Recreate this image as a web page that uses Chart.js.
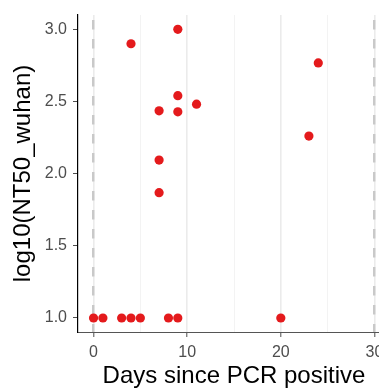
<!DOCTYPE html>
<html>
<head>
<meta charset="utf-8">
<script src="https://cdn.jsdelivr.net/npm/chart.js@4/dist/chart.umd.min.js"></script>
<style>
  html, body { margin: 0; padding: 0; background: #fff; overflow: hidden; width: 379px; height: 389px; }
  #wrap { width: 395px; height: 389px; }
</style>
</head>
<body>
<div id="wrap"><canvas id="c" width="395" height="389"></canvas></div>
<script>
// Data
const days   = [0, 1, 3, 4, 5, 8, 9, 20, 4, 9, 9, 7, 9, 7, 7, 11, 24, 23];
const nt50   = [1.0, 1.0, 1.0, 1.0, 1.0, 1.0, 1.0, 1.0, 2.9, 3.0, 2.54, 2.435, 2.428, 2.094, 1.868, 2.481, 2.767, 2.26];
const xTicks = [0, 5, 10, 15, 20, 25, 30];
const xMajor = [0, 10, 20, 30];
const xDashed = [0, 30];
const yTicks = [1.0, 1.5, 2.0, 2.5, 3.0];

const points = days.map((d, i) => ({ x: d, y: nt50[i] }));
const FONT = "'Liberation Sans', Arial, Helvetica, sans-serif";

function zeroPad(s) { s.paddingTop = 0; s.paddingBottom = 0; s.paddingLeft = 0; s.paddingRight = 0; }

new Chart(document.getElementById('c'), {
  type: 'scatter',
  data: {
    datasets: [{
      data: points,
      backgroundColor: '#E41A1C',
      borderWidth: 0,
      pointRadius: 4.6,
      pointHoverRadius: 4.6
    }]
  },
  options: {
    responsive: false,
    animation: false,
    devicePixelRatio: 1,
    layout: { padding: { top: 15, right: 5, left: 0, bottom: 0 } },
    plugins: { legend: { display: false }, tooltip: { enabled: false } },
    scales: {
      x: {
        type: 'linear',
        position: 'bottom',
        min: -1.66,
        max: 31.66,
        afterBuildTicks: s => { s.ticks = xTicks.map(v => ({ value: v })); },
        afterFit: s => { s.height = 57; zeroPad(s); },
        ticks: {
          font: { family: FONT, size: 16 },
          color: '#4d4d4d',
          padding: 6,
          maxRotation: 0,
          autoSkip: false,
          callback: v => xMajor.includes(v) ? String(v) : ''
        },
        grid: {
          drawOnChartArea: true,
          drawTicks: true,
          tickLength: 5,
          color: ctx => xMajor.includes(ctx.tick && ctx.tick.value) ? '#ebebeb' : '#f3f3f3',
          lineWidth: ctx => xMajor.includes(ctx.tick && ctx.tick.value) ? 1.6 : 1,
          tickColor: ctx => xMajor.includes(ctx.tick && ctx.tick.value) ? '#4d4d4d' : 'rgba(0,0,0,0)',
          tickWidth: 1
        },
        border: { display: true, color: '#555555', width: 1 },
        title: {
          display: true,
          text: 'Days since PCR positive',
          color: '#000',
          font: { family: FONT, size: 24, lineHeight: 1 },
          padding: { top: 0, bottom: 1 }
        }
      },
      x2: {
        type: 'linear',
        position: 'bottom',
        min: -1.66,
        max: 31.66,
        afterBuildTicks: s => { s.ticks = xDashed.map(v => ({ value: v })); },
        afterFit: s => { s.height = 0; zeroPad(s); },
        ticks: { display: false },
        grid: {
          drawOnChartArea: true,
          drawTicks: false,
          color: '#c9c9c9',
          lineWidth: 2.4
        },
        border: { display: false, dash: [9.5, 9.5], dashOffset: 14 }
      },
      y: {
        type: 'linear',
        position: 'left',
        min: 0.903,
        max: 3.099,
        afterBuildTicks: s => { s.ticks = yTicks.map(v => ({ value: v })); },
        afterFit: s => { s.width = 78; zeroPad(s); },
        ticks: {
          font: { family: FONT, size: 16 },
          color: '#4d4d4d',
          padding: 6,
          autoSkip: false,
          callback: v => Number(v).toFixed(1)
        },
        grid: {
          drawOnChartArea: false,
          drawTicks: true,
          tickLength: 5,
          tickColor: '#4d4d4d',
          tickWidth: 1
        },
        border: { display: true, color: '#000000', width: 1.2 },
        title: {
          display: true,
          text: 'log10(NT50_wuhan)',
          color: '#000',
          font: { family: FONT, size: 24, lineHeight: 1 },
          padding: { top: 11.5, bottom: 0 }
        }
      }
    }
  }
});
</script>
</body>
</html>
